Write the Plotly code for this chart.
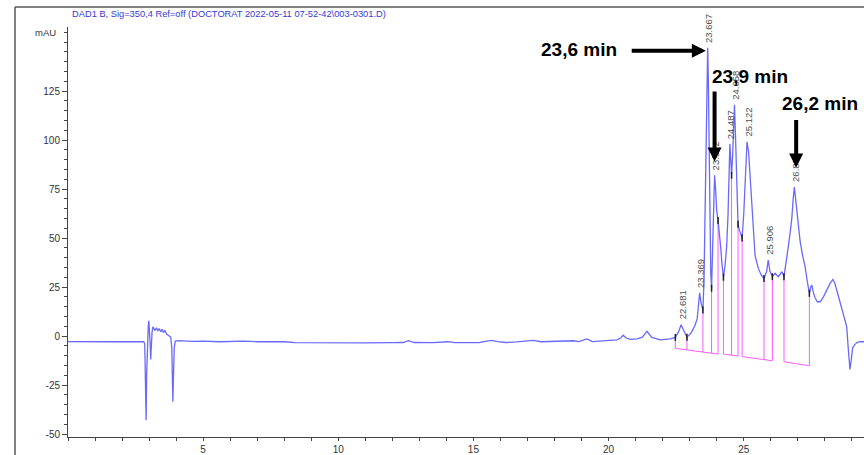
import numpy as np
import plotly.graph_objects as go

# ---------------- chromatogram signal (DAD1 B, 350 nm) ----------------
t_min = [
    0.00, 0.50, 1.00, 1.50, 2.00, 2.50, 2.80, 2.84, 2.87, 2.89, 2.91, 2.94, 2.97, 2.99,
    3.01, 3.04, 3.06, 3.08, 3.11, 3.14, 3.18, 3.22, 3.27, 3.32, 3.37, 3.43, 3.48, 3.53,
    3.58, 3.65, 3.72, 3.80, 3.84, 3.86, 3.88, 3.90, 3.93, 3.97, 4.10, 4.60, 5.00, 5.60,
    6.00, 6.50, 7.00, 7.50, 8.00, 8.40, 9.00, 10.00, 11.00, 12.00, 12.40, 12.60, 12.80,
    13.50, 14.08, 14.30, 15.20, 15.50, 15.68, 15.90, 16.20, 16.60, 17.00, 17.22, 17.50,
    17.80, 18.20, 18.70, 18.90, 19.20, 19.40, 19.90, 20.30, 20.45, 20.54, 20.65, 20.80,
    21.05, 21.25, 21.42, 21.60, 21.91, 22.10, 22.28, 22.47, 22.60, 22.681, 22.78, 22.90,
    23.05, 23.20, 23.28, 23.33, 23.369, 23.42, 23.49, 23.53, 23.57, 23.61, 23.64, 23.667,
    23.69, 23.72, 23.75, 23.78, 23.81, 23.85, 23.89, 23.922, 23.96, 24.00, 24.05, 24.10,
    24.15, 24.20, 24.25, 24.31, 24.37, 24.42, 24.46, 24.487, 24.52, 24.55, 24.59, 24.63,
    24.658, 24.70, 24.74, 24.79, 24.84, 24.94, 25.00, 25.06, 25.122, 25.18, 25.24, 25.30,
    25.36, 25.42, 25.54, 25.65, 25.75, 25.85, 25.906, 25.97, 26.06, 26.16, 26.28, 26.41,
    26.49, 26.58, 26.65, 26.72, 26.78, 26.83, 26.873, 26.92, 26.96, 27.02, 27.09, 27.18,
    27.27, 27.35, 27.43, 27.48, 27.52, 27.58, 27.64, 27.72, 27.83, 27.95, 28.07, 28.20,
    28.30, 28.37, 28.44, 28.55, 28.62, 28.69, 28.75, 28.81, 28.86, 28.93, 28.98, 29.03,
    29.10, 29.20, 29.30, 29.45,
]
mau = [
    -2.8, -2.9, -2.7, -2.9, -2.8, -2.9, -2.9, -4.0, -25.0, -43.0, -20.0, -3.0, 5.0, 7.8,
    4.0, -4.0, -12.0, -3.0, 2.0, 4.7, 3.5, 2.8, 4.2, 2.6, 3.8, 2.2, 3.5, 1.8,
    2.8, 1.0, 0.3, -0.5, -6.0, -20.0, -33.5, -22.0, -6.0, -2.6, -2.3, -2.7, -2.6, -2.9,
    -2.8, -2.6, -2.9, -2.8, -2.9, -3.4, -3.5, -3.4, -3.5, -3.4, -3.3, -2.4, -3.3,
    -3.4, -2.9, -3.4, -3.4, -2.6, -2.2, -2.8, -3.3, -3.0, -2.6, -2.2, -2.9,
    -2.7, -2.8, -2.4, -2.8, -1.5, -2.8, -2.4, -2.0, -1.0, 0.4, -1.0, -1.7,
    -1.4, -0.6, 2.4, -0.7, -2.0, -1.8, -1.4, -0.7, 2.5, 5.8, 3.0, -0.6,
    1.5, 5.5, 9.0, 16.0, 22.0, 17.0, 13.3, 28.0, 58.0, 98.0, 130.0, 147.0,
    132.0, 92.0, 55.0, 32.0, 24.4, 45.0, 72.0, 82.0, 75.0, 64.0, 59.0, 53.0,
    45.0, 36.0, 30.0, 36.0, 46.0, 62.0, 85.0, 98.0, 90.0, 82.0, 92.0, 108.0,
    118.0, 100.0, 75.0, 57.0, 54.0, 50.0, 62.0, 85.0, 99.0, 94.0, 80.0, 64.0,
    52.0, 41.0, 34.5, 31.0, 29.4, 33.0, 38.8, 33.0, 30.3, 32.0, 30.3, 32.8,
    30.3, 38.0, 45.6, 53.0, 60.0, 70.0, 76.0, 70.0, 64.0, 55.0, 48.0, 41.0,
    35.4, 28.0, 21.8, 25.0, 26.0, 22.0, 19.5, 17.5, 17.5, 20.0, 23.5, 27.0,
    28.9, 27.0, 23.5, 18.0, 15.0, 11.6, 8.0, 4.8, -5.0, -17.0, -12.0, -6.0,
    -4.5, -3.2, -2.9, -2.9,
]

# ---------------- integration results ----------------
peak_rt = [22.681, 23.369, 23.667, 23.922, 24.487, 24.658, 25.122, 25.906, 26.873]
peak_rt_labels = ["22.681", "23.369", "23.667", "23.922", "24.487", "24.658",
                  "25.122", "25.906", "26.873"]

# baseline segments: (start time, start mAU) -> (end time, end mAU)
baseline_start_t = [22.47, 24.25, 24.94, 26.49]
baseline_start_v = [-6.3, -9.2, -10.5, -13.1]
baseline_end_t = [24.05, 24.79, 26.06, 27.43]
baseline_end_v = [-9.2, -10.2, -12.6, -15.2]
# peak boundaries (drop lines) inside each segment
drop_times = [
    [22.47, 22.90, 23.49, 23.81, 24.05],
    [24.25, 24.55, 24.79],
    [24.94, 25.75, 26.06],
    [26.49, 27.43],
]

# highlighted peaks
callout_text = ["23,6 min", "23,9 min", "26,2 min"]

# axis labelling
x_tick_vals = [5, 10, 15, 20, 25]
y_tick_vals = [-50, -25, 0, 25, 50, 75, 100, 125]

t_arr = np.array(t_min)
v_arr = np.array(mau)

fig = go.Figure()

# baselines and drop lines (magenta)
bx, by = [], []
for t0, v0, t1, v1, drops in zip(baseline_start_t, baseline_start_v,
                                 baseline_end_t, baseline_end_v, drop_times):
    bx += [t0, t1, None]
    by += [v0, v1, None]
    for td in drops:
        vb = v0 + (v1 - v0) * (td - t0) / (t1 - t0)
        vc = float(np.interp(td, t_arr, v_arr))
        bx += [td, td, None]
        by += [vc, vb, None]
fig.add_trace(go.Scatter(x=bx, y=by, mode="lines",
                         line=dict(color="rgb(255,90,255)", width=1),
                         hoverinfo="skip", showlegend=False))

# signal
fig.add_trace(go.Scatter(x=t_min, y=mau, mode="lines",
                         line=dict(color="rgb(105,105,250)", width=1.3),
                         showlegend=False))

# boundary tick marks on the signal
all_drops = [td for grp in drop_times for td in grp]
fig.add_trace(go.Scatter(x=all_drops, y=np.interp(all_drops, t_arr, v_arr),
                         mode="markers",
                         marker=dict(symbol="line-ns", size=5,
                                     line=dict(color="#222", width=1.5)),
                         hoverinfo="skip", showlegend=False))

annotations = []
# retention-time labels above each peak
for rt, lab in zip(peak_rt, peak_rt_labels):
    annotations.append(dict(
        x=rt, y=float(np.interp(rt, t_arr, v_arr)), xref="x", yref="y",
        text=lab, textangle=-90, showarrow=False,
        xanchor="center", yanchor="bottom", xshift=1, yshift=3,
        font=dict(family="Liberation Sans", size=9.5, color="#505050")))

# callout arrows
arrow_tip = [(23.60, 145.5), (23.922, 89.0), (26.94, 86.0)]
arrow_tail = [(20.80, 145.5), (23.922, 125.5), (26.94, 111.0)]
for (xt, yt), (xa, ya) in zip(arrow_tip, arrow_tail):
    annotations.append(dict(
        x=xt, y=yt, ax=xa, ay=ya, xref="x", yref="y", axref="x", ayref="y",
        text="", showarrow=True, arrowhead=2, arrowsize=0.7, arrowwidth=4,
        arrowcolor="black", standoff=0, startstandoff=0))

# callout texts
text_pos = [(18.91, 146.4), (25.22, 132.4), (27.81, 118.4)]
for txt, (xt, yt) in zip(callout_text, text_pos):
    annotations.append(dict(
        x=xt, y=yt, xref="x", yref="y", text=f"<b>{txt}</b>", showarrow=False,
        xanchor="center", yanchor="middle",
        font=dict(family="Liberation Sans", size=19, color="black")))

# header and unit
annotations.append(dict(
    x=0.0025, y=1.0, yshift=13, xref="paper", yref="paper",
    xanchor="left", yanchor="middle",
    text="DAD1 B, Sig=350,4 Ref=off (DOCTORAT 2022-05-11 07-52-42\\003-0301.D)",
    showarrow=False, font=dict(family="Liberation Sans", size=9.3, color="#3838d4")))
annotations.append(dict(
    x=-0.0126, y=155, xref="paper", yref="y", xanchor="right", yanchor="middle",
    text="mAU", showarrow=False,
    font=dict(family="Liberation Sans", size=9.5, color="#333")))

# outer frame: top and left edges, 20 px above / 53 px left of the plot area
frame_top = 1.0 + 20 / 410
frame_left = -53 / 796
frame = [
    dict(type="line", xref="paper", yref="paper", x0=frame_left, x1=1.0,
         y0=frame_top, y1=frame_top, line=dict(color="#555", width=1.5)),
    dict(type="line", xref="paper", yref="paper", x0=frame_left, x1=frame_left,
         y0=-0.05, y1=frame_top, line=dict(color="#555", width=1.5)),
]

axis_font = dict(family="Liberation Sans", size=10, color="#333")
fig.update_layout(
    width=864, height=455,
    margin=dict(l=68, r=0, t=27, b=18, autoexpand=False),
    paper_bgcolor="white", plot_bgcolor="white",
    annotations=annotations, shapes=frame,
    xaxis=dict(range=[0, 29.45], showgrid=False, zeroline=False, automargin=False,
               showline=True, linecolor="#444", linewidth=1,
               ticks="outside", ticklen=3, tickcolor="#444", tickwidth=1,
               tickmode="array", tickvals=x_tick_vals,
               ticktext=[str(v) for v in x_tick_vals], tickfont=axis_font,
               minor=dict(tick0=0, dtick=1, ticks="outside", ticklen=3, tickcolor="#444")),
    yaxis=dict(range=[-51.5, 157.65], showgrid=False, zeroline=False, automargin=False,
               showline=True, linecolor="#444", linewidth=1,
               ticks="outside", ticklen=5, tickcolor="#444", tickwidth=1,
               tickmode="array", tickvals=y_tick_vals,
               ticktext=[str(v) for v in y_tick_vals], tickfont=axis_font,
               minor=dict(tick0=0, dtick=5, ticks="outside", ticklen=3, tickcolor="#444")),
)

fig.write_html("out.html")
